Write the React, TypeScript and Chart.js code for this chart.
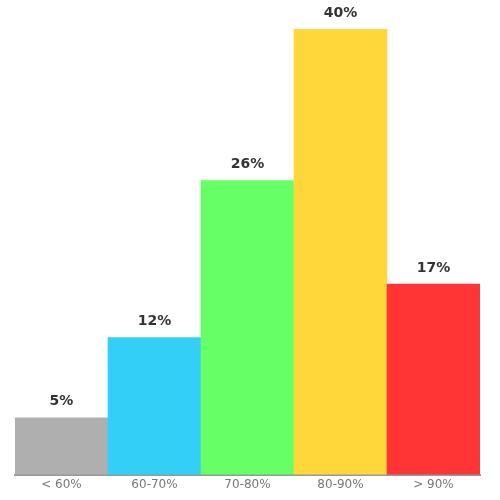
import React, { useEffect, useRef } from 'react';
import { Chart, registerables } from 'chart.js';

Chart.register(...registerables);

const categories = ['< 60%', '60-70%', '70-80%', '80-90%', '> 90%'];
const shares = [5.1, 12.3, 26.4, 40, 17.1];
const colors = ['#afafaf', '#33cff7', '#66ff66', '#ffd73b', '#ff3535'];

const FONT = "'DejaVu Sans', Verdana, sans-serif";

// draws the rounded percentage above each bar
const valueLabels = {
  id: 'valueLabels',
  afterDatasetsDraw(chart: Chart) {
    const { ctx } = chart;
    const meta = chart.getDatasetMeta(0);
    ctx.save();
    ctx.font = `bold 14px ${FONT}`;
    ctx.fillStyle = '#333';
    ctx.textAlign = 'center';
    ctx.textBaseline = 'middle';
    meta.data.forEach((bar: any, i) => {
      ctx.fillText(`${Math.round(shares[i])}%`, bar.x, bar.y - 16);
    });
    ctx.restore();
  },
};

export default function App() {
  const ref = useRef<HTMLCanvasElement>(null);

  useEffect(() => {
    if (!ref.current) return;
    const chart = new Chart(ref.current, {
      type: 'bar',
      data: {
        labels: categories,
        datasets: [{
          data: shares,
          backgroundColor: colors,
          borderWidth: 0,
          categoryPercentage: 1,
          barPercentage: 1,
        }],
      },
      options: {
        animation: false,
        responsive: true,
        maintainAspectRatio: false,
        layout: { padding: { top: 29, left: 15, right: 20, bottom: 5 } },
        plugins: { legend: { display: false }, tooltip: { enabled: false } },
        scales: {
          x: {
            grid: { display: false, drawTicks: false, tickLength: 0 },
            border: { display: true, color: '#999', width: 2 },
            ticks: { color: '#777', font: { family: FONT, size: 12 }, padding: 3 },
          },
          y: { display: false, min: 0, max: 40 },
        },
      },
      plugins: [valueLabels],
    });
    return () => chart.destroy();
  }, []);

  return (
    <div style={{ position: 'absolute', left: 0, top: 0, width: 500, height: 500, background: '#fff' }}>
      <canvas ref={ref} />
    </div>
  );
}
